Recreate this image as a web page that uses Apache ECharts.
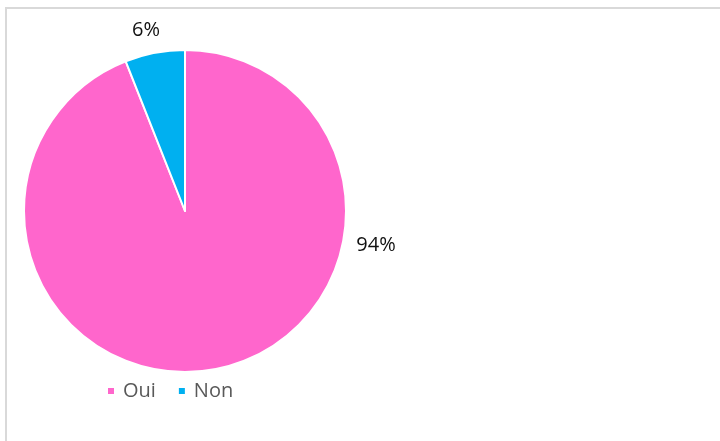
<!DOCTYPE html>
<html><head><meta charset="utf-8">
<script src="https://cdn.jsdelivr.net/npm/echarts@6/dist/echarts.min.js"></script>
<style>html,body{margin:0;padding:0;background:#fff}#c{width:720px;height:441px}</style>
</head><body><div id="c"></div>
<script>
const categories = ['Oui', 'Non'];
const values = [94, 6];
const colors = ['#FF66CC', '#00B0F0'];

const chart = echarts.init(document.getElementById('c'));
chart.setOption({
  animation: false,
  graphic: [{
    type: 'rect', shape: {x: 6, y: 8, width: 730, height: 450},
    style: {fill: 'none', stroke: '#d9d9d9', lineWidth: 2}, silent: true
  }],
  legend: {
    data: categories,
    left: 101, top: 376,
    icon: 'rect', itemWidth: 8, itemHeight: 8, itemGap: 21,
    textStyle: {fontFamily: 'Open Sans', fontSize: 20, color: '#595959', padding: [0, 0, 0, 3]}
  },
  series: [{
    type: 'pie',
    center: [185, 211],
    radius: [0, 161],
    startAngle: 90,
    clockwise: true,
    data: categories.map((c, i) => ({name: c, value: values[i], itemStyle: {color: colors[i]}})),
    itemStyle: {borderColor: '#fff', borderWidth: 2},
    label: {
      show: true, position: 'outside',
      formatter: p => Math.round(p.percent) + '%',
      fontFamily: 'Open Sans', fontSize: 20, color: '#111'
    },
    labelLine: {show: false},
    labelLayout: p => p.dataIndex === 0
      ? {x: 376, y: 245, align: 'center', verticalAlign: 'middle'}
      : {x: 146, y: 30, align: 'center', verticalAlign: 'middle'}
  }]
});
</script></body></html>
